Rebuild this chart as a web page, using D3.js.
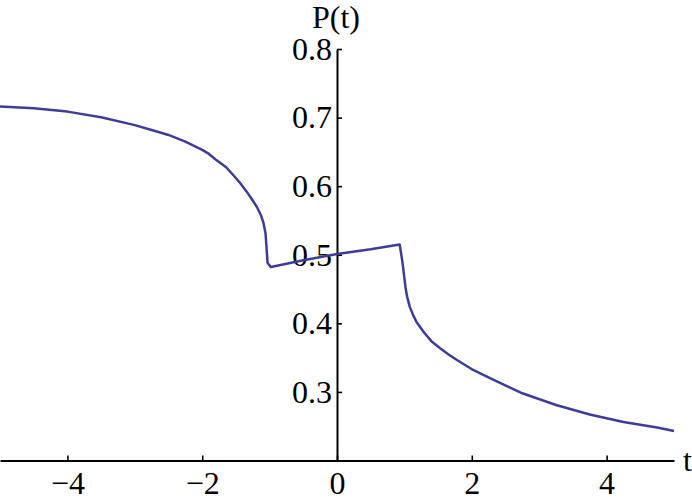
<!DOCTYPE html>
<html>
<head>
<meta charset="utf-8">
<script src="https://cdn.jsdelivr.net/npm/d3@7"></script>
<style>
  body { margin: 0; background: #fff; }
  svg text { font-family: "Liberation Serif", "Times New Roman", serif; fill: #000; }
</style>
</head>
<body>
<svg id="chart" width="692" height="503"></svg>
<script>
// values
const tValues = [-5, -4.5, -4, -3.5, -3, -2.75, -2.5, -2.25, -2, -1.9, -1.79, -1.65, -1.54,
  -1.44, -1.34, -1.27, -1.19, -1.13, -1.09, -1.06, -1.03, -0.98, -0.5, 0, 0.5, 0.93, 0.97,
  1.02, 1.04, 1.08, 1.13, 1.18, 1.28, 1.4, 1.53, 1.65, 1.78, 2.02, 2.27, 2.75, 3.25, 3.75,
  4.25, 4.75, 5];
const pValues = [0.716, 0.7135, 0.7087, 0.7005, 0.689, 0.682, 0.6747, 0.665, 0.653, 0.647,
  0.638, 0.628, 0.6163, 0.605, 0.592, 0.582, 0.570, 0.558, 0.546, 0.531, 0.488, 0.482,
  0.492, 0.501, 0.508, 0.515, 0.49, 0.45, 0.439, 0.424, 0.412, 0.402, 0.388, 0.374, 0.3636,
  0.355, 0.3465, 0.332, 0.320, 0.298, 0.281, 0.267, 0.256, 0.248, 0.243];

const xMajor = [-4, -2, 0, 2, 4];
const xMinor = [-4.5, -3.5, -3, -2.5, -1.5, -1, -0.5, 0.5, 1, 1.5, 2.5, 3, 3.5, 4.5];
const yMajor = [0.3, 0.4, 0.5, 0.6, 0.7, 0.8];
const yMinor = [0.22, 0.24, 0.26, 0.28, 0.32, 0.34, 0.36, 0.38, 0.42, 0.44, 0.46, 0.48,
  0.52, 0.54, 0.56, 0.58, 0.62, 0.64, 0.66, 0.68, 0.72, 0.74, 0.76, 0.78];

const svg = d3.select("#chart");

const x = d3.scaleLinear().domain([-5, 5]).range([0, 674]);
const y = d3.scaleLinear().domain([0.2, 0.8]).range([460.5, 49]);

const fontSize = 32;
const serif = '"Liberation Serif", "Times New Roman", serif';

// x axis, ticks pointing up
const gx = svg.append("g").attr("transform", "translate(0," + y(0.2) + ")");
gx.call(d3.axisBottom(x).tickValues(xMinor).tickSize(-3).tickSizeOuter(0).tickFormat(""));
gx.call(d3.axisBottom(x).tickValues(xMajor).tickSize(-5).tickSizeOuter(0).tickPadding(11));

// y axis, ticks pointing right
const gy = svg.append("g").attr("transform", "translate(" + x(0) + ",0)");
gy.call(d3.axisLeft(y).tickValues(yMinor).tickSize(-3).tickSizeOuter(0).tickFormat(""));
gy.call(d3.axisLeft(y).tickValues(yMajor).tickSize(-5).tickSizeOuter(0).tickPadding(5)
  .tickFormat(d3.format(".1f")));

svg.selectAll("g").attr("font-family", serif).attr("font-size", fontSize);
svg.selectAll(".domain").attr("stroke", "#000").attr("stroke-width", 2);
svg.selectAll(".tick line").attr("stroke", "#000").attr("stroke-width", 1.6);
svg.selectAll(".tick text")
  .attr("font-family", serif)
  .style("font-size", fontSize + "px")
  .attr("fill", "#000");

// axis labels
svg.append("text")
  .attr("x", x(0) - 1).attr("y", 28)
  .attr("text-anchor", "middle")
  .style("font-size", fontSize + "px")
  .text("P(t)");

svg.append("text")
  .attr("x", x(5) + 9).attr("y", y(0.2))
  .attr("dy", "0.32em")
  .style("font-size", fontSize + "px")
  .text("t");

// the curve
const line = d3.line()
  .x((d, i) => x(tValues[i]))
  .y(d => y(d));

svg.append("path")
  .datum(pValues)
  .attr("d", line)
  .attr("fill", "none")
  .attr("stroke", "#3d3d99")
  .attr("stroke-width", 2.5)
  .attr("stroke-linejoin", "round");
</script>
</body>
</html>
